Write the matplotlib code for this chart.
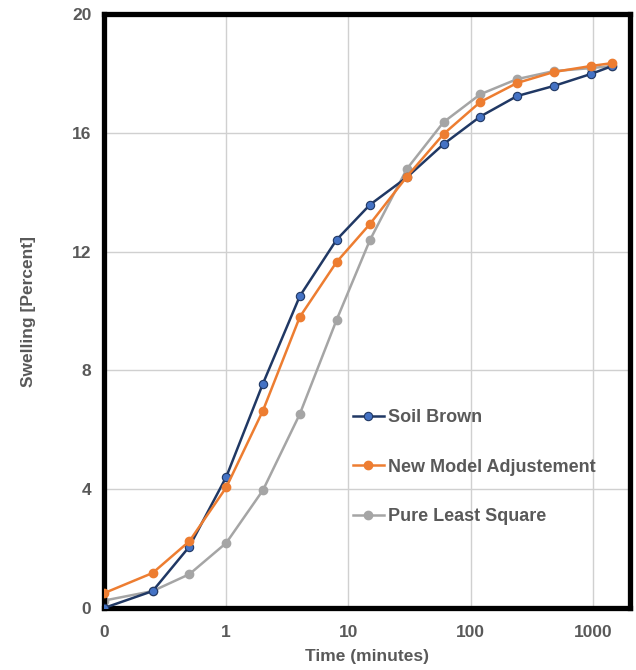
import matplotlib.pyplot as plt
from matplotlib.ticker import FixedLocator, FixedFormatter, NullLocator

plt.rcParams['font.family'] = ['Liberation Sans', 'DejaVu Sans']

# time 0 is placed at 0.1 on the log axis
time_min = [0.1, 0.25, 0.5, 1, 2, 4, 8, 15, 30, 60, 120, 240, 480, 960, 1440]
soil_brown = [0.0, 0.57, 2.07, 4.41, 7.56, 10.5, 12.4, 13.58, 14.5, 15.62,
              16.55, 17.24, 17.58, 17.98, 18.25]
new_model = [0.5, 1.18, 2.25, 4.06, 6.65, 9.8, 11.65, 12.93, 14.52, 15.96,
             17.04, 17.68, 18.05, 18.25, 18.35]
least_square = [0.25, 0.57, 1.14, 2.19, 3.97, 6.53, 9.7, 12.39, 14.78, 16.36,
                17.3, 17.81, 18.08, 18.18, 18.25]

x_ticks = [0.1, 1, 10, 100, 1000]
x_labels = ['0', '1', '10', '100', '1000']
y_ticks = [0, 4, 8, 12, 16, 20]

txt = '#595959'

fig = plt.figure(figsize=(6.36, 6.70), dpi=100)
ax = fig.add_axes([0.1635, 0.0925, 0.8265, 0.8865])

ax.plot(time_min, soil_brown, color='#203864', lw=1.8, marker='o', ms=6,
        mfc='#4472C4', mec='#203864', mew=0.8, label='Soil Brown', zorder=3)
ax.plot(time_min, new_model, color='#ED7D31', lw=1.8, marker='o', ms=6,
        mfc='#ED7D31', mec='#ED7D31', label='New Model Adjustement', zorder=4)
ax.plot(time_min, least_square, color='#A5A5A5', lw=1.8, marker='o', ms=6,
        mfc='#A5A5A5', mec='#A5A5A5', label='Pure Least Square', zorder=2)

ax.set_xscale('log')
ax.set_xlim(0.1, 2000)
ax.set_ylim(0, 20)
ax.xaxis.set_major_locator(FixedLocator(x_ticks))
ax.xaxis.set_major_formatter(FixedFormatter(x_labels))
ax.xaxis.set_minor_locator(NullLocator())
ax.set_yticks(y_ticks)
ax.tick_params(length=0, labelsize=12.5, labelcolor=txt)
ax.tick_params(axis='x', pad=12)
ax.tick_params(axis='y', pad=9)
for lab in ax.get_xticklabels() + ax.get_yticklabels():
    lab.set_fontweight('bold')

ax.grid(True, color='#D0D0D0', lw=1)
ax.set_axisbelow(True)
for s in ax.spines.values():
    s.set_linewidth(3.8)
    s.set_color('black')

ax.set_xlabel('Time (minutes)', fontsize=12.5, fontweight='bold', color=txt, labelpad=7)
ax.set_ylabel('Swelling [Percent]', fontsize=12.5, fontweight='bold', color=txt, labelpad=26)

leg = ax.legend(loc='upper left', bbox_to_anchor=(0.443, 0.362), frameon=False,
                prop={'size': 13, 'weight': 'bold'}, labelspacing=1.8,
                handlelength=1.7, handletextpad=0.25)
for t in leg.get_texts():
    t.set_color(txt)

fig.savefig('out.png', dpi=100)
